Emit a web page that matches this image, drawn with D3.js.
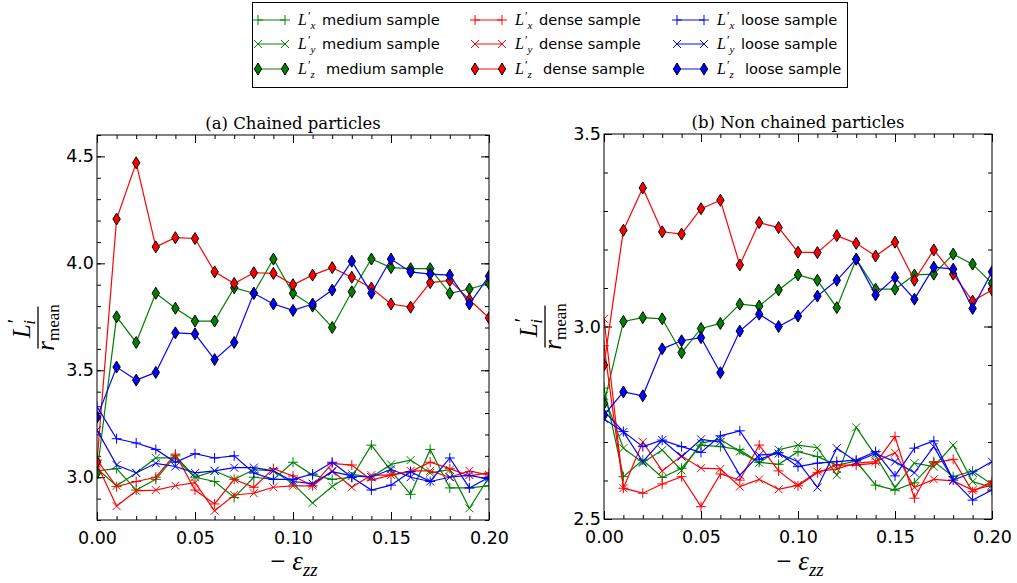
<!DOCTYPE html>
<html><head><meta charset="utf-8">
<script src="https://cdn.jsdelivr.net/npm/d3@7"></script>
<style>body{margin:0;background:#fff}svg{display:block}</style>
</head><body>
<svg id="c" width="1017" height="583"></svg>
<script>
// ---------------- data ----------------
const strain = [0.00,0.01,0.02,0.03,0.04,0.05,0.06,0.07,0.08,0.09,0.10,0.11,0.12,0.13,0.14,0.15,0.16,0.17,0.18,0.19,0.20];
const xTickLabels = ["0.00","0.05","0.10","0.15","0.20"];
const xMajorTicks = [0.00,0.05,0.10,0.15,0.20];
const yTicksChained = [3.0,3.5,4.0,4.5];
const yTicksNonChained = [2.5,3.0,3.5];
const samples = ["medium","dense","loose"];
const components = ["x","y","z"];

// (a) chained particles
const chainedLxMedium = [3.03,3.04,2.94,2.99,3.10,3.00,2.98,2.905,3.00,2.99,3.07,3.01,2.99,3.00,3.15,3.03,2.92,3.13,2.95,2.95,2.96];
const chainedLyMedium = [3.04,2.96,3.02,3.09,3.09,3.00,3.03,2.99,3.035,3.03,2.97,2.88,2.957,3.015,3.00,3.06,3.08,3.02,3.035,2.855,3.00];
const chainedLzMedium = [3.02,3.75,3.63,3.86,3.79,3.73,3.73,3.886,3.86,4.02,3.86,3.80,3.70,3.867,4.02,3.98,3.975,3.975,3.86,3.88,3.906];
const chainedLxDense  = [3.08,2.956,2.98,3.00,3.108,2.94,2.875,2.99,2.953,3.04,3.006,2.96,3.065,3.057,2.987,3.01,3.026,3.07,3.04,3.006,3.02];
const chainedLyDense  = [3.06,2.865,2.936,2.94,2.96,2.975,2.843,2.917,2.925,2.953,2.96,2.96,3.03,2.953,3.01,3.01,3.03,3.03,3.00,3.03,3.01];
const chainedLzDense  = [3.07,4.207,4.47,4.077,4.12,4.116,3.96,3.906,3.956,3.953,3.90,3.945,3.98,3.935,3.885,3.81,3.795,3.91,3.92,3.83,3.745];
const chainedLxLoose  = [3.33,3.18,3.16,3.13,3.07,3.11,3.09,3.10,3.02,2.99,2.99,3.015,3.07,3.00,2.94,2.963,3.026,2.98,3.09,2.95,3.00];
const chainedLyLoose  = [3.22,3.057,3.02,3.065,3.05,3.02,3.03,3.045,3.045,3.03,2.98,2.97,3.026,3.006,3.00,3.037,3.00,2.98,3.00,3.01,2.99];
const chainedLzLoose  = [3.28,3.515,3.454,3.49,3.675,3.67,3.55,3.63,3.86,3.81,3.78,3.81,3.875,4.01,3.86,4.02,3.96,3.95,3.945,3.81,3.94];

// (b) non chained particles
const nonChainedLxMedium = [2.84,2.61,2.653,2.608,2.632,2.692,2.688,2.68,2.647,2.642,2.675,2.662,2.64,2.65,2.588,2.575,2.594,2.649,2.61,2.624,2.59];
const nonChainedLyMedium = [2.82,2.684,2.646,2.679,2.626,2.697,2.707,2.675,2.646,2.68,2.692,2.685,2.614,2.738,2.664,2.582,2.645,2.636,2.692,2.597,2.582];
const nonChainedLzMedium = [2.80,3.013,3.023,3.02,2.932,2.995,3.008,3.058,3.053,3.095,3.134,3.12,3.049,3.175,3.097,3.097,3.134,3.136,3.188,3.162,3.112];
const nonChainedLxDense  = [2.95,2.58,2.567,2.591,2.61,2.532,2.617,2.601,2.692,2.625,2.586,2.62,2.64,2.64,2.645,2.714,2.554,2.646,2.655,2.571,2.597];
const nonChainedLyDense  = [3.02,2.58,2.70,2.625,2.664,2.632,2.63,2.584,2.603,2.577,2.588,2.623,2.63,2.645,2.649,2.672,2.582,2.603,2.599,2.575,2.588];
const nonChainedLzDense  = [2.90,3.25,3.36,3.246,3.24,3.306,3.328,3.16,3.27,3.257,3.193,3.192,3.236,3.216,3.183,3.219,3.12,3.199,3.136,3.066,3.095];
const nonChainedLxLoose  = [2.78,2.727,2.688,2.705,2.688,2.673,2.716,2.729,2.655,2.672,2.636,2.645,2.649,2.653,2.675,2.612,2.684,2.703,2.601,2.549,2.575];
const nonChainedLyLoose  = [2.76,2.726,2.649,2.705,2.662,2.707,2.70,2.614,2.666,2.67,2.649,2.582,2.684,2.649,2.67,2.649,2.62,2.688,2.601,2.62,2.649];
const nonChainedLzLoose  = [2.77,2.83,2.82,2.942,2.963,2.971,2.88,2.988,3.032,3.00,3.027,3.079,3.12,3.175,3.082,3.127,3.071,3.154,3.149,3.047,3.142];

// ---------------- styling ----------------
const colors = {medium:"#008000", dense:"#ff0000", loose:"#0000ff"};
const markerPath = {
  x: "M-5,0H5M0,-5V5",
  y: "M-4,-4L4,4M-4,4L4,-4",
  z: "M0,-6L3.7,0L0,6L-3.7,0Z"
};
const serif = "'Liberation Serif','DejaVu Serif',serif";
const sans = "'DejaVu Sans',sans-serif";

const svg = d3.select("#c");

const panels = [
  {id:"a", title:"(a) Chained particles", x0:97, x1:489, yTop:135, yBot:520, yDomain:[2.8,4.6], yMajor:yTicksChained,
   data:{medium:{x:chainedLxMedium,y:chainedLyMedium,z:chainedLzMedium},
         dense:{x:chainedLxDense,y:chainedLyDense,z:chainedLzDense},
         loose:{x:chainedLxLoose,y:chainedLyLoose,z:chainedLzLoose}},
   ylab:{x:38}, xlabCenter:294},
  {id:"b", title:"(b) Non chained particles", x0:604, x1:992, yTop:134, yBot:519, yDomain:[2.5,3.5], yMajor:yTicksNonChained,
   data:{medium:{x:nonChainedLxMedium,y:nonChainedLyMedium,z:nonChainedLzMedium},
         dense:{x:nonChainedLxDense,y:nonChainedLyDense,z:nonChainedLzDense},
         loose:{x:nonChainedLxLoose,y:nonChainedLyLoose,z:nonChainedLzLoose}},
   ylab:{x:545}, xlabCenter:800}
];

function minorRange(a, b, step) {
  const out = [];
  const n = Math.round((b - a) / step);
  for (let i = 0; i <= n; i++) out.push(+(a + i * step).toFixed(4));
  return out;
}

panels.forEach(p => {
  const x = d3.scaleLinear().domain([0, 0.2]).range([p.x0, p.x1]);
  const y = d3.scaleLinear().domain(p.yDomain).range([p.yBot, p.yTop]);
  const g = svg.append("g");
  const W = p.x1 - p.x0, H = p.yBot - p.yTop;

  g.append("clipPath").attr("id", "clip" + p.id)
    .append("rect").attr("x", p.x0).attr("y", p.yTop).attr("width", W).attr("height", H);

  const xMinor = minorRange(0, 0.2, 0.01);
  const yMinor = minorRange(p.yDomain[0], p.yDomain[1], 0.1);

  const styleAxis = sel => {
    sel.select(".domain").remove();
    sel.selectAll("line").attr("stroke", "#000").attr("stroke-width", 1);
    sel.selectAll("text").attr("font-family", sans).attr("font-size", 17.5).attr("fill", "#000");
  };
  // bottom
  g.append("g").attr("transform", `translate(0,${p.yBot})`)
    .call(d3.axisBottom(x).tickValues(xMinor).tickSize(-4).tickFormat("")).call(styleAxis);
  g.append("g").attr("transform", `translate(0,${p.yBot})`)
    .call(d3.axisBottom(x).tickValues(xMajorTicks).tickSize(-8).tickPadding(12)
      .tickFormat((d, i) => xTickLabels[i])).call(styleAxis);
  // top
  g.append("g").attr("transform", `translate(0,${p.yTop})`)
    .call(d3.axisTop(x).tickValues(xMinor).tickSize(-4).tickFormat("")).call(styleAxis);
  g.append("g").attr("transform", `translate(0,${p.yTop})`)
    .call(d3.axisTop(x).tickValues(xMajorTicks).tickSize(-8).tickFormat("")).call(styleAxis);
  // left
  g.append("g").attr("transform", `translate(${p.x0},0)`)
    .call(d3.axisLeft(y).tickValues(yMinor).tickSize(-4).tickFormat("")).call(styleAxis);
  g.append("g").attr("transform", `translate(${p.x0},0)`)
    .call(d3.axisLeft(y).tickValues(p.yMajor).tickSize(-8).tickPadding(3).tickFormat(d3.format(".1f"))).call(styleAxis);
  // right
  g.append("g").attr("transform", `translate(${p.x1},0)`)
    .call(d3.axisRight(y).tickValues(yMinor).tickSize(-4).tickFormat("")).call(styleAxis);
  g.append("g").attr("transform", `translate(${p.x1},0)`)
    .call(d3.axisRight(y).tickValues(p.yMajor).tickSize(-8).tickFormat("")).call(styleAxis);

  // series
  const plot = g.append("g").attr("clip-path", `url(#clip${p.id})`);
  const line = d3.line().x((d, i) => x(strain[i])).y(d => y(d));
  samples.forEach(s => {
    components.forEach(c => {
      const vals = p.data[s][c];
      const col = colors[s];
      plot.append("path").attr("d", line(vals)).attr("fill", "none")
        .attr("stroke", col).attr("stroke-width", 1.2);
      plot.selectAll(null).data(vals).enter().append("path")
        .attr("transform", (d, i) => `translate(${x(strain[i])},${y(d)})`)
        .attr("d", markerPath[c])
        .attr("fill", c === "z" ? col : "none")
        .attr("stroke", c === "z" ? "#000" : col)
        .attr("stroke-width", 1);
    });
  });

  // frame
  g.append("rect").attr("x", p.x0).attr("y", p.yTop).attr("width", W).attr("height", H)
    .attr("fill", "none").attr("stroke", "#000").attr("stroke-width", 1);

  // title
  g.append("text").attr("x", (p.x0 + p.x1) / 2).attr("y", p.yTop - 6)
    .attr("text-anchor", "middle").attr("font-family", "'DejaVu Serif',serif").attr("font-size", 16.5)
    .text(p.title);

  // x label: − ε_zz
  const xl = g.append("text").attr("x", p.xlabCenter).attr("y", 570)
    .attr("text-anchor", "middle").attr("font-family", serif).attr("font-size", 27);
  xl.append("tspan").text("\u2212 ");
  xl.append("tspan").attr("font-style", "italic").text("\u03b5");
  xl.append("tspan").attr("font-style", "italic").attr("font-size", 19).attr("dy", 6).text("zz");

  // y label: L'_i / r_mean (rotated)
  const cy = (p.yTop + p.yBot) / 2;
  const yl = g.append("g").attr("transform", `translate(${p.ylab.x},${cy}) rotate(-90)`);
  yl.append("line").attr("x1", -21).attr("x2", 21).attr("y1", 0).attr("y2", 0)
    .attr("stroke", "#000").attr("stroke-width", 1.3);
  const num = yl.append("text").attr("x", -1).attr("y", -8).attr("text-anchor", "middle")
    .attr("font-family", serif).attr("font-size", 25);
  num.append("tspan").attr("font-style", "italic").text("L");
  num.append("tspan").attr("font-size", 20).attr("dy", -8).attr("dx", 1).text("\u2032");
  num.append("tspan").attr("font-style", "italic").attr("font-size", 17).attr("dy", 13).attr("dx", -6).text("i");
  const den = yl.append("text").attr("x", 0).attr("y", 16).attr("text-anchor", "middle")
    .attr("font-family", serif).attr("font-size", 25);
  den.append("tspan").attr("font-style", "italic").text("r");
  den.append("tspan").attr("font-size", 17).attr("dy", 5).text("mean");
});

// ---------------- legend ----------------
const legendLabels = {medium:"medium sample", dense:"dense sample", loose:"loose sample"};
const lg = svg.append("g");
lg.append("rect").attr("x", 252.5).attr("y", 2.5).attr("width", 595).attr("height", 85)
  .attr("fill", "#fff").attr("stroke", "#000").attr("stroke-width", 1);
const colX = {medium:258, dense:475, loose:677};
const rowY = {x:20, y:44, z:69};
samples.forEach(s => {
  components.forEach(c => {
    const hx = colX[s], hy = rowY[c], col = colors[s];
    lg.append("line").attr("x1", hx).attr("x2", hx + 27).attr("y1", hy).attr("y2", hy)
      .attr("stroke", col).attr("stroke-width", 1.3).attr("stroke-opacity", 0.75);
    [hx, hx + 27].forEach(mx => {
      lg.append("path").attr("transform", `translate(${mx},${hy})`).attr("d", markerPath[c])
        .attr("fill", c === "z" ? col : "none")
        .attr("stroke", c === "z" ? "#000" : col).attr("stroke-width", 1);
    });
    const t = lg.append("text").attr("x", hx + 40).attr("y", hy + 5)
      .attr("font-family", serif).attr("font-size", 16);
    t.append("tspan").attr("font-style", "italic").text("L");
    t.append("tspan").attr("font-size", 12).attr("dy", -5).attr("dx", 1).text("\u2032");
    t.append("tspan").attr("font-style", "italic").attr("font-size", 11).attr("dy", 9).attr("dx", 0).text(c);
    lg.append("text").attr("x", hx + 64 + (c === "z" ? 4 : 0)).attr("y", hy + 5)
      .attr("font-family", sans).attr("font-size", 14.6).text(legendLabels[s]);
  });
});
</script>
</body></html>
